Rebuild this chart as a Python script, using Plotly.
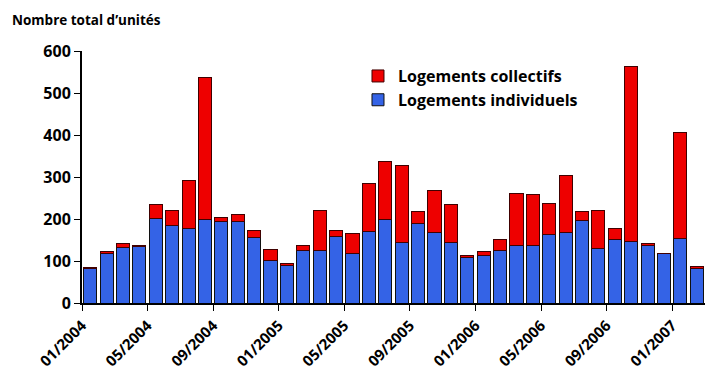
import plotly.graph_objects as go

months = ["01/2004","02/2004","03/2004","04/2004","05/2004","06/2004","07/2004","08/2004",
          "09/2004","10/2004","11/2004","12/2004","01/2005","02/2005","03/2005","04/2005",
          "05/2005","06/2005","07/2005","08/2005","09/2005","10/2005","11/2005","12/2005",
          "01/2006","02/2006","03/2006","04/2006","05/2006","06/2006","07/2006","08/2006",
          "09/2006","10/2006","11/2006","12/2006","01/2007","02/2007"]
individuels = [82,118,132,134,202,184,177,200,195,193,155,101,90,125,125,158,
               118,170,200,145,189,168,145,109,113,125,138,138,163,167,197,130,
               152,147,137,118,154,82]
collectifs = [2,5,10,3,32,36,114,337,9,18,18,27,4,12,95,15,
              48,114,137,183,30,100,89,4,10,27,123,120,75,136,20,90,
              25,417,4,0,251,5]
tick_labels = ["01/2004","05/2004","09/2004","01/2005","05/2005","09/2005",
               "01/2006","05/2006","09/2006","01/2007"]

xs = list(range(len(months)))
tickpos = [months.index(t) - 0.5 for t in tick_labels]

FONT = "Open Sans"

fig = go.Figure()
fig.add_trace(go.Bar(x=xs, y=individuels, name="Logements individuels",
                     marker=dict(color="#3463e6", line=dict(color="#101010", width=1)),
                     customdata=months))
fig.add_trace(go.Bar(x=xs, y=collectifs, name="Logements collectifs",
                     marker=dict(color="#ee0000", line=dict(color="#400000", width=1)),
                     customdata=months))

fig.update_layout(
    width=705, height=371,
    barmode="stack", bargap=0.2,
    margin=dict(l=82, r=0, t=51, b=68, autoexpand=False),
    paper_bgcolor="white", plot_bgcolor="white",
    font=dict(family=FONT, color="black"),
    showlegend=True,
    legend=dict(x=0.443, y=0.968, xanchor="left", yanchor="top",
                traceorder="reversed", bgcolor="rgba(0,0,0,0)",
                font=dict(size=16, weight="bold", family=FONT),
                tracegroupgap=0),
    xaxis=dict(range=[-0.5, len(months) - 0.5], tickmode="array",
               tickvals=tickpos, ticktext=tick_labels, tickangle=-45,
               ticks="outside", ticklen=6, tickcolor="black", automargin=False,
               showline=True, linecolor="black", linewidth=2,
               showgrid=False, zeroline=False,
               tickfont=dict(size=15, weight="bold", family=FONT)),
    yaxis=dict(range=[0, 600], tickvals=[0,100,200,300,400,500,600],
               ticks="outside", ticklen=6, tickcolor="black", automargin=False,
               showline=True, linecolor="black", linewidth=2,
               showgrid=False, zeroline=False,
               tickfont=dict(size=16, weight="bold", family=FONT)),
    annotations=[dict(text="Nombre total d\u2019unités", xref="paper", yref="paper",
                      x=-82/623, y=(303-20)/252, xanchor="left", yanchor="middle",
                      xshift=10, showarrow=False,
                      font=dict(size=13.5, weight="bold", family=FONT))],
)

fig.write_html("out.html", config={"displayModeBar": False},
               post_script="document.body.style.margin='0';document.body.style.padding='0';")
